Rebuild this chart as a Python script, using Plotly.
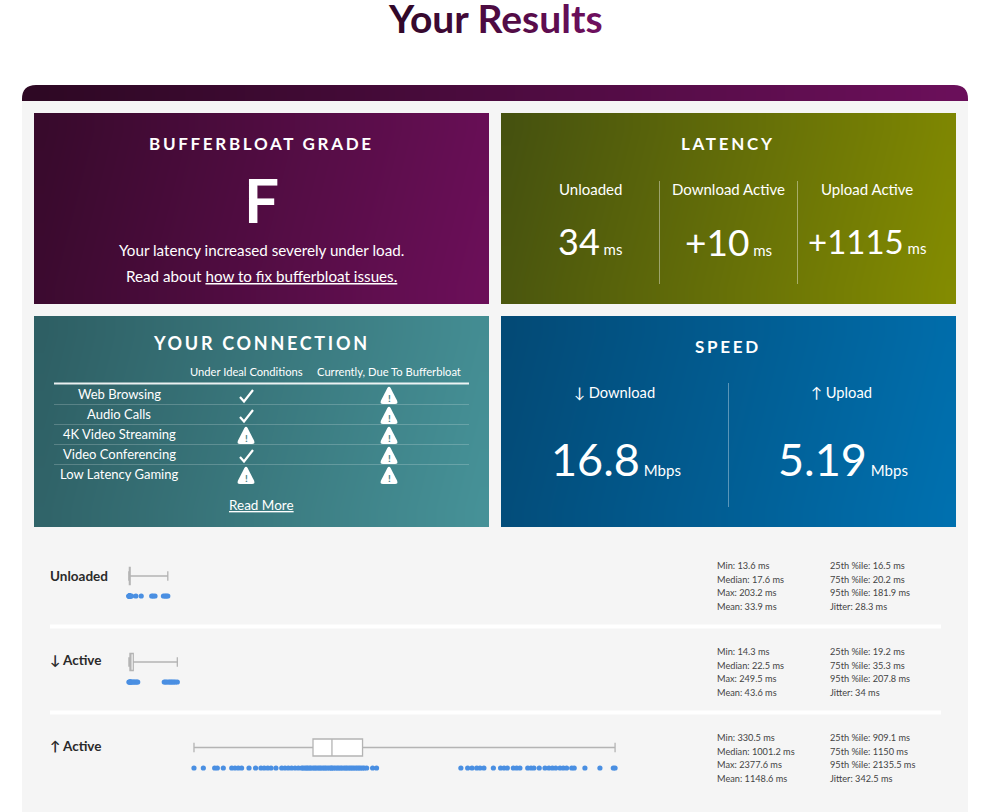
import plotly.graph_objects as go

# ---------- data ----------
ROW_NAMES = ["Unloaded", "↓ Active", "↑ Active"]
MIN_MS = [13.6, 14.3, 330.5]
Q1_MS = [16.5, 19.2, 909.1]
MEDIAN_MS = [17.6, 22.5, 1001.2]
Q3_MS = [20.2, 35.3, 1150.0]
MAX_MS = [203.2, 249.5, 2377.6]
STATS_LEFT = [
    ["Min: 13.6 ms", "Median: 17.6 ms", "Max: 203.2 ms", "Mean: 33.9 ms"],
    ["Min: 14.3 ms", "Median: 22.5 ms", "Max: 249.5 ms", "Mean: 43.6 ms"],
    ["Min: 330.5 ms", "Median: 1001.2 ms", "Max: 2377.6 ms", "Mean: 1148.6 ms"],
]
STATS_RIGHT = [
    ["25th %ile: 16.5 ms", "75th %ile: 20.2 ms", "95th %ile: 181.9 ms", "Jitter: 28.3 ms"],
    ["25th %ile: 19.2 ms", "75th %ile: 35.3 ms", "95th %ile: 207.8 ms", "Jitter: 34 ms"],
    ["25th %ile: 909.1 ms", "75th %ile: 1150 ms", "95th %ile: 2135.5 ms", "Jitter: 342.5 ms"],
]
SAMPLES_UNLOADED = [13.6, 15, 16, 16.5, 17, 17.6, 18, 19, 20, 20.2, 27, 48, 74, 125, 132, 141, 182, 190, 196, 203.2]
SAMPLES_DOWN = [14.3, 17, 19.2, 21, 22.5, 25, 30, 35.3, 40, 46, 52, 57,
                186, 192, 199, 207.8, 214, 220, 226, 233, 240, 249.5]
SAMPLES_UP = [330.5, 376, 431, 444, 473, 514, 530, 546, 562, 598, 630, 656, 672, 689, 705, 729,
              757, 773, 789, 805, 822, 838, 854, 861, 870, 878, 884, 893, 899, 909, 917, 924,
              933, 941, 948, 957, 965, 972, 981, 990, 998, 1001, 1010, 1018, 1027, 1034, 1043,
              1050, 1060, 1068, 1075, 1084, 1092, 1100, 1108, 1117, 1125, 1133, 1141, 1150, 1158,
              1170, 1199, 1218, 1628, 1661, 1682, 1705, 1721, 1740, 1786, 1821, 1838, 1854, 1883,
              1899, 1915, 1953, 1969, 1983, 2009, 2037, 2056, 2073, 2089, 2110, 2126, 2142, 2167,
              2179, 2231, 2304, 2369, 2377.6]
SAMPLES = [SAMPLES_UNLOADED, SAMPLES_DOWN, SAMPLES_UP]

LATENCY_LABELS = ["Unloaded", "Download Active", "Upload Active"]
LATENCY_VALUES = ["34", "+10", "+1115"]
SPEED_LABELS = ["↓ Download", "↑ Upload"]
SPEED_VALUES = ["16.8", "5.19"]
SPEED_UNIT = "Mbps"
USES = ["Web Browsing", "Audio Calls", "4K Video Streaming", "Video Conferencing", "Low Latency Gaming"]
IDEAL = ["ok", "ok", "warn", "ok", "warn"]
CURRENT = ["warn", "warn", "warn", "warn", "warn"]

# ---------- layout constants ----------
FONT = "Lato"
BOX_Y = [576, 662, 747.5]
RUG_Y = [596, 682, 768]
LABEL_Y = [577, 661, 747]
STAT_Y = [[566, 580, 593, 607], [652, 666, 679, 693], [738, 752, 765, 779]]
USE_Y = [395, 415, 435, 455, 475]
LAT_X = [590, 728, 867]
LAT_SIZE = [36, 37, 33]
SPD_X = [616, 843]
PX_PER_MS = 0.2057
ZERO_PX = 126


def add_gradient(fig, x0, x1, y0, y1, c0, c1, tilt=0.25):
    n = 24
    xs = [x0 + (x1 - x0) * i / n for i in range(n + 1)]
    ys = [y0 + (y1 - y0) * i / 6 for i in range(7)]
    span = (x1 - x0) + tilt * (y1 - y0)
    z = [[((xs[i] - x0) + tilt * (ys[j] - y0)) / span for i in range(n)] for j in range(6)]
    fig.add_trace(go.Heatmap(x=xs, y=ys, z=z, zmin=0, zmax=1, zsmooth="best", showscale=False,
                             hoverinfo="skip", colorscale=[[0, c0], [1, c1]], xaxis="x", yaxis="y"))


def spaced(t, px):
    return f'<span style="letter-spacing:{px}px">{t}</span>'


def lerp_hex(c0, c1, t):
    a = [int(c0[i:i + 2], 16) for i in (1, 3, 5)]
    b = [int(c1[i:i + 2], 16) for i in (1, 3, 5)]
    return "#" + "".join(f"{round(a[i] + (b[i] - a[i]) * t):02x}" for i in range(3))


fig = go.Figure()
texts = []


def T(x, y, s, size=14, color="white", anchor="center", weight=400, family=FONT):
    # annotations carry a little padding; nudge so the glyphs land where intended
    dx = -2 if anchor == "left" else 0
    texts.append(dict(x=x + dx, y=y - 1, text=s, showarrow=False, xref="x", yref="y", xanchor=anchor,
                      yanchor="middle", align="left",
                      font=dict(family=family, size=size, color=color, weight=weight)))


# gradient cards
add_gradient(fig, 22, 968, 85, 101, "#2e0824", "#6d0f5c", tilt=0)
add_gradient(fig, 34, 489, 113, 304, "#380a2c", "#6e0f5b")
add_gradient(fig, 501, 956, 113, 304, "#46520f", "#868e00")
add_gradient(fig, 34, 489, 316, 527, "#2e5f64", "#47949a")
add_gradient(fig, 501, 956, 316, 527, "#034a76", "#0072b2")

# box plots on the millisecond axis
for i, name in enumerate(ROW_NAMES):
    fig.add_trace(go.Box(
        y=[BOX_Y[i]], lowerfence=[MIN_MS[i]], q1=[Q1_MS[i]], median=[MEDIAN_MS[i]], q3=[Q3_MS[i]],
        upperfence=[MAX_MS[i]], orientation="h", width=17, whiskerwidth=0.55, boxpoints=False,
        fillcolor="white", line=dict(color="#b4b4b4", width=1.3), xaxis="x2", yaxis="y",
        hoverinfo="skip", name=name))
    fig.add_trace(go.Scatter(
        x=SAMPLES[i], y=[RUG_Y[i]] * len(SAMPLES[i]), mode="markers", xaxis="x2", yaxis="y", hoverinfo="skip",
        marker=dict(size=5.2, color="#4a8fe2"), name=name))


def warn_path(cx, y):
    return (f"M{cx-1.6},{y-7} Q{cx},{y-9.5} {cx+1.6},{y-7} L{cx+8},{y+5.5} Q{cx+9.5},{y+9} {cx+6},{y+9} "
            f"L{cx-6},{y+9} Q{cx-9.5},{y+9} {cx-8},{y+5.5} Z")


def check_path(cx, y):
    return f"M{cx-6},{y+2} L{cx-2},{y+6.5} L{cx+7},{y-5}"


icon_shapes = []
for col_x, states in ((246, IDEAL), (389, CURRENT)):
    for y, s in zip(USE_Y, states):
        if s == "ok":
            icon_shapes.append(dict(type="path", xref="x", yref="y", path=check_path(col_x, y),
                                    line=dict(color="white", width=2.2)))
        else:
            icon_shapes.append(dict(type="path", xref="x", yref="y", path=warn_path(col_x, y), fillcolor="white",
                                    line_width=0))
            T(col_x, y + 4, "!", size=10, color="#4a8388", weight=700)

# title
title = "Your Results"
title_html = "".join(
    f'<span style="color:{lerp_hex("#32082a", "#6e0f5e", k / (len(title) - 1))}">{ch}</span>'
    for k, ch in enumerate(title))
T(495, 19, title_html, size=39, weight=700)

# grade card
T(261, 144, spaced("BUFFERBLOAT GRADE", 2.7), size=17, weight=700)
T(261, 200, "F", size=62, weight=700)
T(261, 251, "Your latency increased severely under load.", size=15.2)
T(261, 277, "Read about <u>how to fix bufferbloat issues.</u>", size=15.2)

# latency card
T(728, 144, spaced("LATENCY", 2.7), size=17, weight=700)
for x, lab, val, sz in zip(LAT_X, LATENCY_LABELS, LATENCY_VALUES, LAT_SIZE):
    T(x, 190, lab, size=15)
    T(x, 242, f'<span style="font-size:{sz}px">{val}</span> ms', size=15)

# connection card
T(261, 344, spaced("YOUR CONNECTION", 2.7), size=18, weight=700)
T(246, 372, "Under Ideal Conditions", size=11.2)
T(389, 372, "Currently, Due To Bufferbloat", size=11.2)
for y, use in zip(USE_Y, USES):
    T(119, y, use, size=13)
T(261, 506, "<u>Read More</u>", size=13.5)

# speed card
T(728, 347, spaced("SPEED", 2.7), size=17, weight=700)
for x, lab, val in zip(SPD_X, SPEED_LABELS, SPEED_VALUES):
    T(x - 2, 393, lab, size=14.7)
    T(x, 460, f'<span style="font-size:45px">{val}</span> {SPEED_UNIT}', size=15)

# rows
for i, name in enumerate(ROW_NAMES):
    T(50, LABEL_Y[i], name, size=13.5, color="#2a2a2a", anchor="left", weight=700)
    for j in range(4):
        T(717, STAT_Y[i][j], STATS_LEFT[i][j], size=9.2, color="#444444", anchor="left")
        T(830, STAT_Y[i][j], STATS_RIGHT[i][j], size=9.2, color="#444444", anchor="left")


def rect(x0, y0, x1, y1, color, layer="above"):
    return dict(type="rect", xref="x", yref="y", x0=x0, y0=y0, x1=x1, y1=y1, fillcolor=color,
                line_width=0, layer=layer)


def hline(y, x0, x1, color, w):
    return dict(type="line", xref="x", yref="y", x0=x0, x1=x1, y0=y, y1=y, line=dict(color=color, width=w))


def vline(x, y0, y1, color, w=1):
    return dict(type="line", xref="x", yref="y", x0=x, x1=x, y0=y0, y1=y1, line=dict(color=color, width=w))


shapes = [
    rect(22, 101, 968, 812, "#f5f5f5", "below"),
    dict(type="path", xref="x", yref="y", path="M22,85 L36,85 Q22,85 22,99 Z", fillcolor="white", line_width=0),
    dict(type="path", xref="x", yref="y", path="M968,85 L954,85 Q968,85 968,99 Z", fillcolor="white", line_width=0),
    hline(383.5, 54, 469, "rgba(255,255,255,0.9)", 2),
    hline(404.5, 54, 469, "rgba(255,255,255,0.2)", 1),
    hline(424.5, 54, 469, "rgba(255,255,255,0.2)", 1),
    hline(444.5, 54, 469, "rgba(255,255,255,0.2)", 1),
    hline(464.5, 54, 469, "rgba(255,255,255,0.2)", 1),
    vline(659.5, 181, 284, "rgba(255,255,255,0.4)"),
    vline(797.5, 181, 284, "rgba(255,255,255,0.4)"),
    vline(728.5, 383, 507, "rgba(255,255,255,0.35)"),
    hline(626.5, 50, 941, "white", 4),
    hline(712.5, 50, 941, "white", 4),
] + icon_shapes

axis_off = dict(visible=False, showgrid=False, zeroline=False, fixedrange=True)
fig.update_layout(
    width=999, height=812, margin=dict(l=0, r=0, t=0, b=0), showlegend=False,
    paper_bgcolor="white", plot_bgcolor="rgba(0,0,0,0)",
    xaxis=dict(range=[0, 999], **axis_off),
    yaxis=dict(range=[812, 0], **axis_off),
    xaxis2=dict(range=[-ZERO_PX / PX_PER_MS, (999 - ZERO_PX) / PX_PER_MS], overlaying="x", anchor="y", **axis_off),
    annotations=texts, shapes=shapes, boxmode="overlay",
)
fig.write_html("out.html", post_script="document.body.style.margin='0';document.body.style.overflow='hidden';",
               config={"displayModeBar": False})
